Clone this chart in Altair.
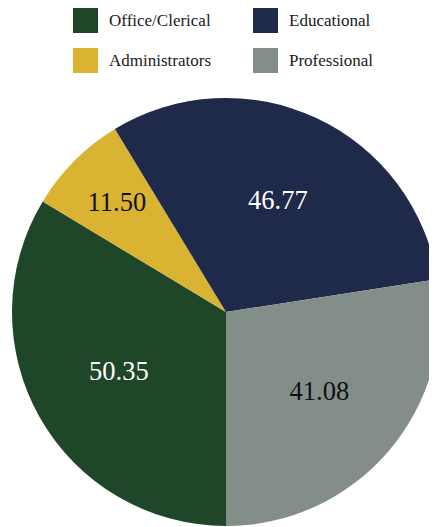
import math
import altair as alt
import pandas as pd

categories = ["Office/Clerical", "Administrators", "Educational", "Professional"]
values = [50.35, 11.50, 46.77, 41.08]
colors = ["#20462a", "#d9b331", "#1f2a4a", "#838e89"]
white_labels = ["Office/Clerical", "Educational"]

df = pd.DataFrame({
    "category": categories,
    "value": values,
    "idx": list(range(len(categories))),
    "label": [f"{v:.2f}" for v in values],
})

FONT = "Liberation Serif"
CX, CY = 218, 304

theta = alt.Theta("value:Q", stack=True, scale=alt.Scale(range=[math.pi, 3 * math.pi]))
order = alt.Order("idx:O")

base = alt.Chart(df)

pie = base.mark_arc(radius=214, stroke=None).encode(
    x=alt.value(CX),
    y=alt.value(CY),
    theta=theta,
    order=order,
    color=alt.Color(
        "category:N",
        scale=alt.Scale(domain=categories, range=colors),
        legend=alt.Legend(
            title=None,
            orient="none",
            legendX=65,
            legendY=0,
            columns=2,
            symbolType="square",
            symbolSize=625,
            symbolStrokeWidth=0,
            symbolOpacity=1,
            labelFont=FONT,
            labelFontSize=17,
            labelColor="#1a1a1a",
            labelOffset=11,
            columnPadding=42,
            rowPadding=15,
            padding=0,
        ),
    ),
)

is_white = alt.FieldOneOfPredicate(field="category", oneOf=white_labels)


def labels(radius, show_admin):
    cond = alt.datum.category == "Administrators"
    return base.mark_text(radius=radius, font=FONT, fontSize=26.5).encode(
        x=alt.value(CX),
        y=alt.value(CY),
        theta=theta,
        order=order,
        text="label:N",
        fill=alt.condition(is_white, alt.value("white"), alt.value("#111111")),
        opacity=alt.condition(cond, alt.value(1 if show_admin else 0), alt.value(0 if show_admin else 1)),
    )


chart = alt.layer(pie, labels(123, False), labels(154, True)).properties(
    width=421,
    height=519,
    padding=0,
    autosize=alt.AutoSizeParams(type="none"),
).configure_view(stroke=None)

chart.save("out.html", embed_options={"renderer": "svg", "actions": False})
